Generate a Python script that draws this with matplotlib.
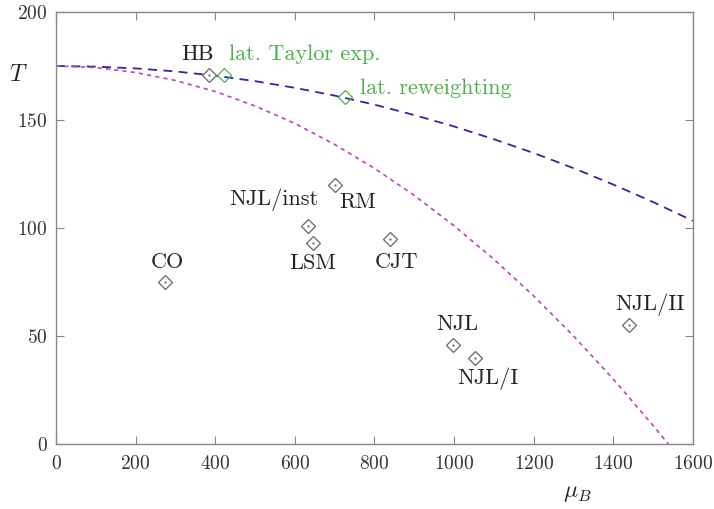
import matplotlib
matplotlib.use("Agg")
import matplotlib.pyplot as plt

plt.rcParams["font.family"] = "serif"
plt.rcParams["font.serif"] = ["cmr10", "DejaVu Serif"]
plt.rcParams["mathtext.fontset"] = "cm"
plt.rcParams["axes.formatter.use_mathtext"] = True

# Crossover lines: chemical potential mu_B and temperature T
mu_line = [0, 100, 200, 300, 400, 500, 600, 700, 800, 900, 1000, 1100, 1200,
           1300, 1400, 1500, 1600]
t_blue = [175, 174.7, 173.9, 172.5, 170.5, 168.0, 164.9, 161.3, 157.1, 152.3,
          147.0, 141.1, 134.7, 127.7, 120.1, 112.0, 103.3]
mu_mag = [0, 100, 200, 300, 400, 500, 600, 700, 800, 900, 1000, 1100, 1200,
          1300, 1400, 1500, 1538]
t_mag = [175, 174.3, 172.0, 168.3, 163.2, 156.5, 148.4, 138.7, 127.6, 115.1,
         101.0, 85.5, 68.5, 50.0, 30.0, 8.5, 0]

# Critical end-point estimates
model_names = ["HB", "RM", "NJL/inst", "LSM", "CO", "CJT", "NJL", "NJL/I", "NJL/II"]
model_mu = [384, 701, 633, 646, 274, 839, 997, 1053, 1440]
model_t = [171, 120, 101, 93, 75, 95, 46, 40, 55]

lat_names = ["lat. Taylor exp.", "lat. reweighting"]
lat_mu = [422, 726]
lat_t = [171, 160.5]

# label offsets (pixels) and alignment
model_off = {"HB": (-11, 20, "center"), "RM": (23, -17, "center"),
             "NJL/inst": (-34, 26, "center"), "LSM": (0, -20, "center"),
             "CO": (2, 20, "center"), "CJT": (6, -23, "center"),
             "NJL": (4, 20, "center"), "NJL/I": (13, -21, "center"),
             "NJL/II": (21, 20, "center")}
lat_off = {"lat. Taylor exp.": (5, 20, "left"),
           "lat. reweighting": (15, 9, "left")}

fig = plt.figure(figsize=(7.14, 5.09), dpi=100)
ax = fig.add_axes([0.0784, 0.1277, 0.8922, 0.8487])

ax.plot(mu_line, t_blue, color="#2b2b9e", lw=1.3, dashes=(5, 3.5))
ax.plot(mu_mag, t_mag, color="#c040c0", lw=1.2, dashes=(2.5, 2.5))

gray = "#666666"
green = "#4cb04c"
ax.plot(model_mu, model_t, ls="none", marker="D", ms=7.5, mfc="white",
        mec=gray, mew=0.9)
ax.plot(model_mu, model_t, ls="none", marker=".", ms=1.2, color=gray)
ax.plot(lat_mu, lat_t, ls="none", marker="D", ms=7.5, mfc="none",
        mec=green, mew=0.9)

for n, x, y in zip(model_names, model_mu, model_t):
    dx, dy, ha = model_off[n]
    ax.annotate(n, (x, y), xytext=(dx, dy), textcoords="offset pixels",
                ha=ha, va="center", fontsize=16, color="#222222")
for n, x, y in zip(lat_names, lat_mu, lat_t):
    dx, dy, ha = lat_off[n]
    ax.annotate(n, (x, y), xytext=(dx, dy), textcoords="offset pixels",
                ha=ha, va="center", fontsize=16, color=green)

ax.set_xlim(0, 1600)
ax.set_ylim(0, 200)
ax.set_xticks(range(0, 1601, 200))
ax.set_yticks(range(0, 201, 50))
ax.tick_params(direction="in", length=6, width=0.8, color="#888888",
               labelsize=14, labelcolor="#333333", top=True, right=True)
ax.tick_params(axis="x", pad=8)
ax.tick_params(axis="y", pad=6)
for s in ax.spines.values():
    s.set_color("#888888")
    s.set_linewidth(1.0)

fig.text(18 / 714, 1 - 75 / 509, "$T$", fontsize=17, ha="center",
         va="center", color="#222222")
fig.text(577 / 714, 1 - 493 / 509, r"$\mu_B$", fontsize=17, ha="center",
         va="center", color="#222222")

fig.savefig("out.png", dpi=100)
